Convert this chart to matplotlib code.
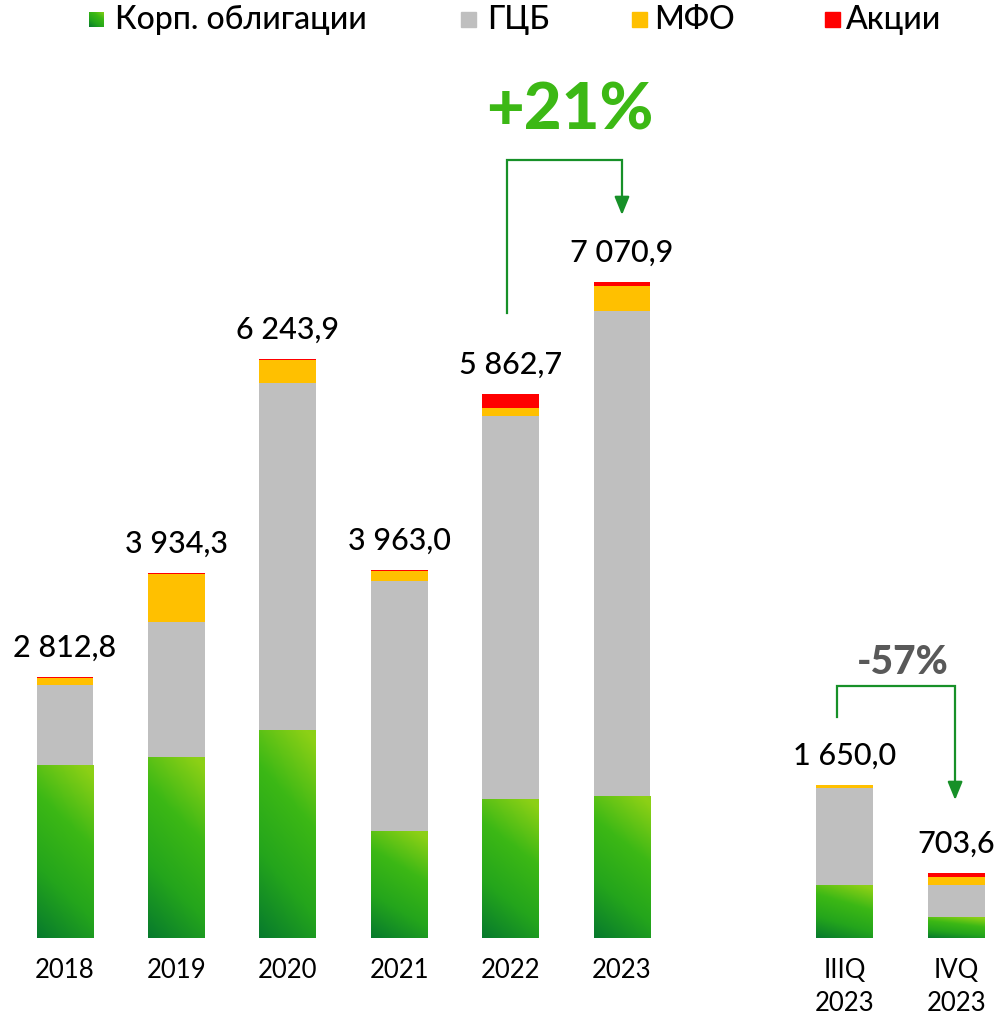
import numpy as np
import matplotlib
matplotlib.use("Agg")
import matplotlib.pyplot as plt
from matplotlib.colors import LinearSegmentedColormap
from matplotlib.patches import Rectangle

plt.rcParams['font.family'] = ['Lato', 'DejaVu Sans']

# data
labels = ['2018', '2019', '2020', '2021', '2022', '2023', 'IIIQ\n2023', 'IVQ\n2023']
xpos = [0, 1, 2, 3, 4, 5, 7, 8]
totals_txt = ['2 812,8', '3 934,3', '6 243,9', '3 963,0', '5 862,7', '7 070,9', '1 650,0', '703,6']
corp = [1865, 1951, 2242, 1153, 1498, 1531, 571, 226]
gcb = [862, 1455, 3741, 2695, 4128, 5228, 1046, 345]
mfo = [75, 517, 245, 108, 86, 270, 33, 86]
akcii = [11, 11, 16, 7, 151, 42, 0, 46]
series_names = ['Корп. облигации', 'ГЦБ', 'МФО', 'Акции']

c_gray = '#bfbfbf'
c_orange = '#ffc000'
c_red = '#ff0000'
c_arrow = '#179028'
green_cmap = LinearSegmentedColormap.from_list('g', ['#077a2d', '#24a51c', '#3cb815', '#8cd016'])

W, H = 1003, 1021
fig = plt.figure(figsize=(W / 100, H / 100), dpi=100)
base_px = 938
scale = 0.0928  # px per unit
ax = fig.add_axes([0, (H - base_px) / H, 1, base_px / H])
ax.axis('off')

bw = 0.51
corp = np.array(corp); gcb = np.array(gcb); mfo = np.array(mfo); akcii = np.array(akcii)
b2 = corp + gcb
b3 = b2 + mfo
tot = b3 + akcii

yy, xx = np.mgrid[0:1:200j, 0:1:60j]
grad = 0.8 * yy + 0.25 * xx

# green segments: empty bars used as clip paths for a gradient image
greens = ax.bar(xpos, corp, bw, color='none', edgecolor='none')
for r in greens:
    x0, y0 = r.get_x(), r.get_y()
    im = ax.imshow(grad, cmap=green_cmap, origin='lower', aspect='auto',
                   extent=[x0, x0 + r.get_width(), y0, y0 + r.get_height()],
                   vmin=0, vmax=1, interpolation='bilinear')
    im.set_clip_path(r)
ax.bar(xpos, gcb, bw, bottom=corp, color=c_gray)
ax.bar(xpos, mfo, bw, bottom=b2, color=c_orange)
ax.bar(xpos, akcii, bw, bottom=b3, color=c_red)
ax.set_xlim(-0.583, 8.42)
ax.set_ylim(0, base_px / scale)

for x, t, s in zip(xpos, tot, totals_txt):
    ax.annotate(s, (x, t), xytext=(0, 11), textcoords='offset points',
                ha='center', va='bottom', fontsize=22, fontweight='medium', color='#000000')

# category labels
for x, lab in zip(xpos, labels):
    ax.text(x, -215, lab, ha='center', va='top', fontsize=18.5, color='#000000',
            linespacing=1.4, clip_on=False)

# growth arrows
def step_arrow(x1, y1, ytop, x2, y2):
    ax.plot([x1, x1, x2, x2], [y1, ytop, ytop, y2 + 120], color=c_arrow, lw=1.6,
            solid_joinstyle='miter')
    ax.annotate('', xy=(x2, y2), xytext=(x2, y2 + 200),
                arrowprops=dict(arrowstyle='-|>,head_width=0.45,head_length=1.1',
                                color=c_arrow, lw=1.6, shrinkA=0, shrinkB=0))

step_arrow(3.97, 6735, 8384, 5.0, 7791)
step_arrow(6.93, 2381, 2716, 7.99, 1487)
ax.text(4.53, 8910, '+21%', ha='center', va='center', fontsize=47,
        fontweight='black', color='#3cb815')
ax.text(7.52, 2974, '-57%', ha='center', va='center', fontsize=28,
        fontweight='black', color='#595959')

# legend
leg_sq = [89, 461, 632, 825]
leg_tx = [115, 487, 654, 845]
leg_col = [None, c_gray, c_orange, c_red]
sq = 15
yc = 20
for sx, tx, col, name in zip(leg_sq, leg_tx, leg_col, series_names):
    if col is None:
        lax = fig.add_axes([sx / W, 1 - (yc + sq / 2) / H, sq / W, sq / H])
        lax.imshow(0.6 * yy + 0.4 * xx, cmap=green_cmap, origin='lower',
                   aspect='auto', vmin=0, vmax=1)
        lax.axis('off')
    else:
        fig.patches.append(Rectangle((sx / W, 1 - (yc + sq / 2) / H), sq / W, sq / H,
                                     transform=fig.transFigure, color=col))
    fig.text(tx / W, 1 - yc / H, name, ha='left', va='center', fontsize=23,
             fontweight='medium', color='#000000')

fig.savefig('out.png', dpi=100)
